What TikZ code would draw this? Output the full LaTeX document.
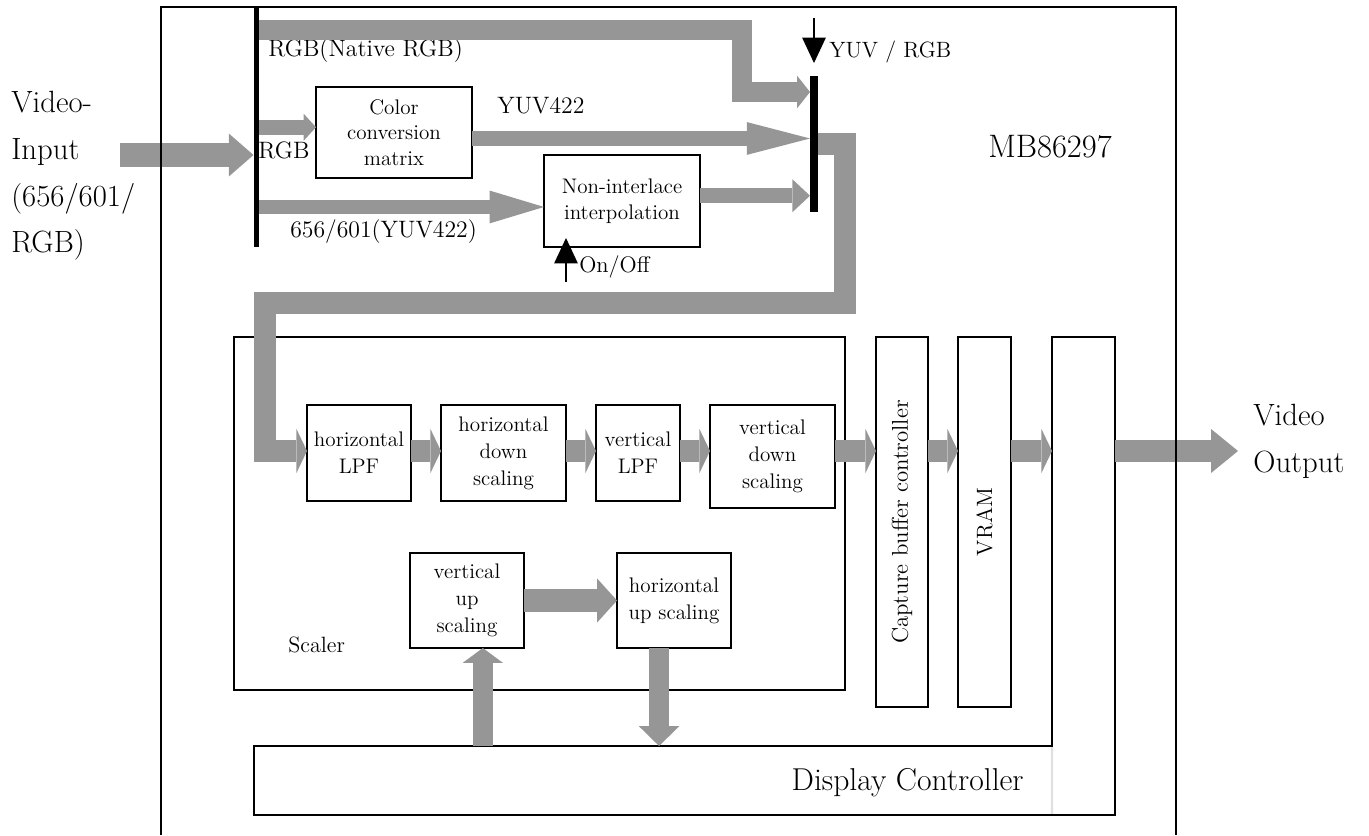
\documentclass[tikz,border=0pt]{standalone}
\usetikzlibrary{arrows.meta,calc}
\definecolor{busgray}{RGB}{150,150,150}
\begin{document}
\begin{tikzpicture}[x=0.02cm, y=-0.02cm,
  box/.style={draw, line width=1.1pt, inner sep=1pt, outer sep=0pt, align=center, font=\fontsize{12}{15.3}\selectfont},
  lbl/.style={inner sep=0pt, font=\fontsize{13.5}{16}\selectfont},
  big/.style={inner sep=0pt, align=left, font=\fontsize{17.5}{26.6}\selectfont},
  bus/.style={color=busgray, line width=12pt, -{Triangle[length=6pt, width=25pt, line width=0pt]}},
  sel/.style={line width=0.9pt, -{Triangle[length=14.5pt, width=13.6pt, line width=0pt]}},
  barnode/.style={fill, inner sep=0pt, outer sep=0pt}]
  \useasboundingbox (0,0) rectangle (1369,835);

  % input and select bars
  \node[barnode, minimum width=0.1cm, minimum height=4.8cm] (inbar) at (256,127) {};
  \node[barnode, minimum width=0.16cm, minimum height=2.72cm] (mux) at (814,144) {};

  % front end
  \node[box, minimum width=3.12cm, minimum height=1.82cm, font=\fontsize{12}{14.5}\selectfont] (csc) at (394,132.5) {Color\\conversion\\matrix};
  \node[box, minimum width=3.12cm, minimum height=1.84cm, font=\fontsize{12}{14.7}\selectfont] (nil) at (622,201) {Non-interlace\\interpolation};

  % scaler
  \node[box, minimum width=12.22cm, minimum height=7.06cm] (scaler) at (539.5,513.5) {};
  \node[box, minimum width=2.08cm, minimum height=1.92cm] (hlpf) at (359,453) {horizontal\\LPF};
  \node[box, minimum width=2.5cm, minimum height=1.92cm] (hdown) at (503.5,453) {horizontal\\down\\scaling};
  \node[box, minimum width=1.68cm, minimum height=1.92cm] (vlpf) at (638,453) {vertical\\LPF};
  \node[box, minimum width=2.5cm, minimum height=2.06cm] (vdown) at (772.5,456.5) {vertical\\down\\scaling};
  \node[box, minimum width=2.28cm, minimum height=1.9cm] (vup) at (467,600.5) {vertical\\up\\scaling};
  \node[box, minimum width=2.28cm, minimum height=1.9cm] (hup) at (674,600.5) {horizontal\\up scaling};
  \node[lbl, anchor=base west, font=\fontsize{12.6}{15}\selectfont] (sclbl) at (288,652) {Scaler};

  % capture, vram, output
  \node[box, minimum width=1.04cm, minimum height=7.4cm] (cbc) at (902,522) {};
  \node[rotate=90, font=\fontsize{13}{15}\selectfont] (cbctxt) at (cbc) {Capture buffer controller};
  \node[box, minimum width=1.06cm, minimum height=7.4cm] (vram) at (984.5,522) {};
  \node[rotate=90, font=\fontsize{12.6}{15}\selectfont] (vramtxt) at (vram) {VRAM};
  \node[box, minimum width=1.26cm, minimum height=9.56cm] (outc) at (1083.5,576) {};
  \node[box, minimum width=15.96cm, minimum height=1.38cm] (disp) at (653,780.5) {};
  \node[anchor=base east, inner sep=0pt, font=\fontsize{18}{20}\selectfont] (displbl) at (1024,790) {Display Controller};
  \draw[white!88!black, line width=1.3pt, shorten <=0.6pt, shorten >=0.6pt] (outc.south west) -- (disp.north east);

  % texts
  \node[big, anchor=north west] (vinlbl) at (11,91) {Video-\\Input\\(656/601/\\RGB)};
  \node[big, anchor=north west] (voutlbl) at (1253,404) {Video\\Output};
  \node[inner sep=0pt, font=\fontsize{18.5}{20}\selectfont] (chip) at (1050,147) {MB86297};
  \node[lbl, anchor=base west] (nrgblbl) at (268,56) {RGB(Native RGB)};
  \node[lbl, anchor=base west] (rgblbl) at (258,158) {RGB};
  \node[lbl, anchor=base west] (yuvlbl) at (497,113) {YUV422};
  \node[lbl, anchor=base west] (ccirlbl) at (290,237) {656/601(YUV422)};
  \node[lbl, anchor=base west, font=\fontsize{12.8}{15}\selectfont] (onofflbl) at (579,272) {On/Off};
  \node[lbl, anchor=base west, font=\fontsize{12.6}{15}\selectfont] (sellbl) at (829,57) {YUV / RGB};

  % free ends and bends
  \coordinate (vin) at (120,155);
  \coordinate (vout) at (1238,451);
  \coordinate (ntop) at (742,30);
  \coordinate (nbot) at (742,92);
  \coordinate (r1) at (845,144);
  \coordinate (r2) at (845,303);
  \coordinate (l1) at (265,303);
  \coordinate (l2) at (265,451);
  \coordinate (selin) at (814,18);
  \coordinate (onoff) at (566,282);
  \coordinate (cin) at ([yshift=3pt]csc.west);
  \coordinate (cout) at ([yshift=-3.4pt]csc.east);
  \coordinate (nin) at ([yshift=-3.4pt]nil.west);
  \coordinate (nout) at ([yshift=3pt]nil.east);
  \coordinate (upin) at ([xshift=9pt]vup.south);
  \coordinate (dnout) at ([xshift=-8.5pt]hup.south);

  % front end buses
  \draw[bus, line width=13.6pt, -{Triangle[length=14pt, width=24.4pt, line width=0pt]}] (vin) -- (inbar.west |- vin);
  \draw[bus, line width=11.3pt, -{Triangle[length=7.4pt, width=18.7pt, line width=0pt]}] (inbar.east |- ntop) -- (ntop) -- (nbot) -- (mux.west |- nbot);
  \draw[bus, line width=8.5pt, -{Triangle[length=7pt, width=15.3pt, line width=0pt]}] (inbar.east |- cin) -- (cin);
  \draw[bus, line width=8.5pt, -{Triangle[length=36pt, width=18.7pt, line width=0pt]}] (cout) -- (mux.west |- cout);
  \draw[bus, line width=8pt, -{Triangle[length=31pt, width=18.7pt, line width=0pt]}] (inbar.east |- nin) -- (nin);
  \draw[bus, line width=8.5pt, -{Triangle[length=10pt, width=18.7pt, line width=0pt]}] (nout) -- (mux.west |- nout);
  \draw[sel] (selin) -- ([yshift=7.4pt]mux.north);
  \draw[sel] (onoff) -- ($(onoff |- nil.south)+(0,-9)$);

  % scaler chain
  \draw[bus] (mux.east) -- (r1) -- (r2) -- (l1) -- (l2) -- (hlpf.west |- l2);
  \draw[bus] (hlpf.east |- l2) -- (hdown.west |- l2);
  \draw[bus] (hdown.east |- l2) -- (vlpf.west |- l2);
  \draw[bus] (vlpf.east |- l2) -- (vdown.west |- l2);
  \draw[bus] (vdown.east |- l2) -- (cbc.west |- l2);
  \draw[bus] (cbc.east |- l2) -- (vram.west |- l2);
  \draw[bus] (vram.east |- l2) -- (outc.west |- l2);
  \draw[bus, -{Triangle[length=15.3pt, width=25pt, line width=0pt]}] (outc.east |- l2) -- (vout);

  % up scaling
  \draw[bus, line width=13pt, -{Triangle[length=11.3pt, width=25pt, line width=0pt]}] (vup.east) -- (hup.west);
  \draw[bus, line width=11.3pt, -{Triangle[length=8.5pt, width=23pt, line width=0pt]}] (disp.north -| upin) -- (upin);
  \draw[bus, line width=11.3pt, -{Triangle[length=11.3pt, width=23pt, line width=0pt]}] (dnout) -- (disp.north -| dnout);

  % chip outline
  \draw[line width=1.1pt] (161,835) -- (161,7) -- (1176,7) -- (1176,835);
\end{tikzpicture}
\end{document}
